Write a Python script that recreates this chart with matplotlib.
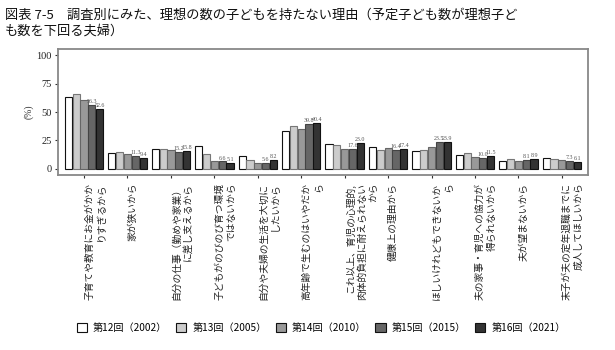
import matplotlib
matplotlib.use("Agg")
import matplotlib.pyplot as plt
import numpy as np
from matplotlib.patches import Patch

plt.rcParams['font.family'] = ['Noto Sans CJK JP', 'DejaVu Sans']

reasons = [
    "子育てや教育にお金がかか\nりすぎるから",
    "家が狭いから",
    "自分の仕事（勤めや家業）\nに差し支えるから",
    "子どもがのびのび育つ環境\nではないから",
    "自分や夫婦の生活を大切に\nしたいから",
    "高年齢で生むのはいやだか\nら",
    "これ以上、育児の心理的,\n肉体的負担に耐えられない\nから",
    "健康上の理由から",
    "ほしいけれどもできないか\nら",
    "夫の家事・育児への協力が\n得られないから",
    "夫が望まないから",
    "末子が夫の定年退職までに\n成人してほしいから",
]
surveys = ["第12回（2002）", "第13回（2005）", "第14回（2010）", "第15回（2015）", "第16回（2021）"]

v2002 = [62.9, 14.3, 17.2, 20.2, 11.1, 33.3, 21.9, 19.6, 15.8, 12.0, 7.0, 9.6]
v2005 = [65.8, 14.9, 17.8, 13.2, 7.9, 37.7, 21.3, 16.7, 16.7, 13.7, 8.5, 8.5]
v2010 = [60.3, 13.2, 16.7, 7.0, 5.0, 35.1, 17.2, 18.4, 19.3, 10.2, 7.0, 7.9]
v2015 = [56.3, 11.3, 15.2, 6.6, 5.6, 39.8, 17.6, 16.4, 23.5, 10.0, 8.1, 7.3]
v2021 = [52.6, 9.4, 15.8, 5.1, 8.2, 40.4, 23.0, 17.4, 23.9, 11.5, 8.9, 6.1]
series = [v2002, v2005, v2010, v2015, v2021]

fills = ['#ffffff', '#cccccc', '#999999', '#666666', '#333333']
edges = ['#111111', '#777777', '#666666', '#444444', '#111111']

fig = plt.figure(figsize=(6.15, 3.5), dpi=100)
ax = fig.add_axes([0.0943, 0.5, 0.8617, 0.36])

x = np.arange(1, len(reasons) + 1)
step = 0.18
for i, vals in enumerate(series):
    pos = x + (i - 2) * step
    ax.bar(pos, vals, width=step * 0.92, color=fills[i], edgecolor=edges[i], linewidth=0.8)
    if i >= 3:
        for p, v in zip(pos, vals):
            ax.text(p, v + 0.8, f"{v:.1f}", ha='center', va='bottom', fontsize=4.3,
                    color='#555555', family='Liberation Serif')

ax.set_xlim(0.4, 12.6)
ax.set_ylim(-5.3, 105.3)
ax.set_yticks([0, 25, 50, 75, 100])
ax.set_yticklabels(['0', '25', '50', '75', '100'], family='Liberation Serif', fontsize=7.5, color='#222222')
ax.set_xticks(x)
ax.set_xticklabels(reasons, rotation=90, ha='left', va='top', multialignment='right',
                   fontsize=7, color='#222222')
for lbl in ax.get_xticklabels():
    lbl.set_rotation_mode('default')
ax.tick_params(axis='both', length=2.5, width=0.8, color='#333333', pad=2)
ax.tick_params(axis='x', pad=3)
for s in ax.spines.values():
    s.set_color('#888888')
    s.set_linewidth(1.3)
ax.set_ylabel('(%)', fontsize=7, family='Liberation Serif', labelpad=2, color='#333333')

fig.text(0.008, 0.975,
         "図表 7-5　調査別にみた、理想の数の子どもを持たない理由（予定子ども数が理想子ど\nも数を下回る夫婦）",
         ha='left', va='top', fontsize=9.5, linespacing=1.25, color='#111111')

handles = [Patch(facecolor=fills[i], edgecolor='#111111', linewidth=0.8) for i in range(5)]
fig.legend(handles, surveys, loc='center', bbox_to_anchor=(0.522, 0.063), ncol=5, frameon=False,
           fontsize=7.3, handlelength=1.0, handleheight=1.0, columnspacing=0.9, handletextpad=0.6)

fig.savefig('out.png', dpi=100)
